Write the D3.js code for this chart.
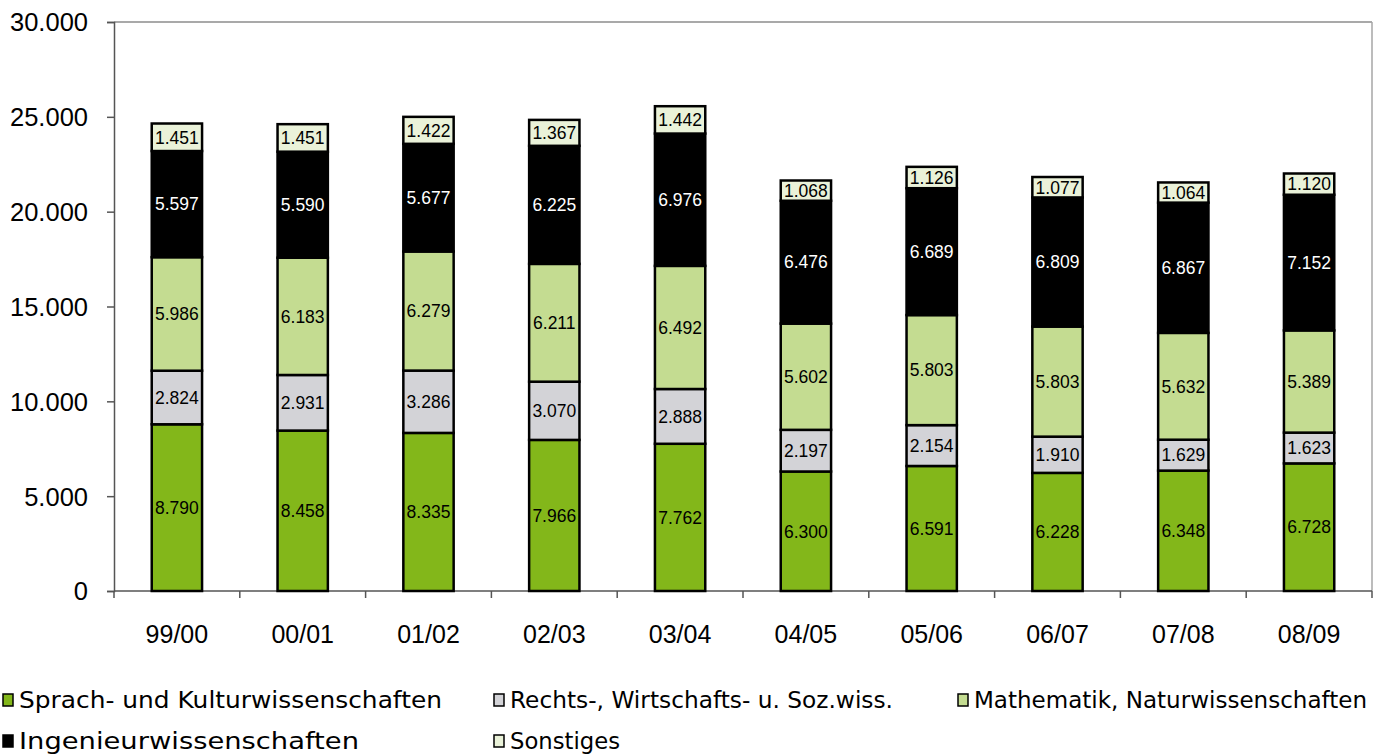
<!DOCTYPE html>
<html>
<head>
<meta charset="utf-8">
<script src="https://cdn.jsdelivr.net/npm/d3@7"></script>
<style>
  body { margin: 0; background: #fff; }
  svg { display: block; font-family: 'Liberation Sans', Arial, sans-serif; }
</style>
</head>
<body>
<div id="chart"></div>
<script>
// semesters on the x axis
var years = ['99/00', '00/01', '01/02', '02/03', '03/04', '04/05', '05/06', '06/07', '07/08', '08/09']

// series, bottom to top
var seriesNames = ['Sprach- und Kulturwissenschaften', 'Rechts-, Wirtschafts- u. Soz.wiss.', 'Mathematik, Naturwissenschaften', 'Ingenieurwissenschaften', 'Sonstiges']
var sprach     = [8790, 8458, 8335, 7966, 7762, 6300, 6591, 6228, 6348, 6728]
var rechts     = [2824, 2931, 3286, 3070, 2888, 2197, 2154, 1910, 1629, 1623]
var mathe      = [5986, 6183, 6279, 6211, 6492, 5602, 5803, 5803, 5632, 5389]
var ingenieur  = [5597, 5590, 5677, 6225, 6976, 6476, 6689, 6809, 6867, 7152]
var sonstiges  = [1451, 1451, 1422, 1367, 1442, 1068, 1126, 1077, 1064, 1120]

var yTicks = [0, 5000, 10000, 15000, 20000, 25000, 30000]

var colors     = ['#83b71a', '#d3d3d7', '#c4dc91', '#000000', '#eaf2d9']
var textColors = ['#000', '#000', '#000', '#fff', '#000']

var W = 1387, H = 756
var margin = {top: 22, right: 15, bottom: 165, left: 114}
var width  = W - margin.left - margin.right
var height = H - margin.top - margin.bottom

var svg = d3.select('#chart').append('svg').attr('width', W).attr('height', H)
var g = svg.append('g').attr('transform', 'translate(' + margin.left + ',' + margin.top + ')')

var table = years.map(function(y, i) {
  return {year: y, s0: sprach[i], s1: rechts[i], s2: mathe[i], s3: ingenieur[i], s4: sonstiges[i]}
})
var keys = ['s0', 's1', 's2', 's3', 's4']
var stacked = d3.stack().keys(keys)(table)

var x = d3.scaleBand().domain(years).range([0, width]).paddingInner(0.6).paddingOuter(0.3)
var xb = d3.scaleBand().domain(years).range([0, width])
var y = d3.scaleLinear().domain([0, 30000]).range([height, 0])

var fmt = function(v) { return d3.format(',')(v).replace(/,/g, '.') }

// frame top and right
g.append('line').attr('x1', 0).attr('x2', width).attr('y1', 0).attr('y2', 0).attr('stroke', '#8c8c8c').attr('stroke-width', 1.5)
g.append('line').attr('x1', width).attr('x2', width).attr('y1', 0).attr('y2', height).attr('stroke', '#a6a6a6').attr('stroke-width', 1.5)

// y axis
var yAxis = g.append('g').call(d3.axisLeft(y).tickValues(yTicks).tickSize(7).tickFormat(fmt))
yAxis.select('.domain').attr('stroke', '#555').attr('stroke-width', 1.5)
yAxis.selectAll('.tick line').attr('stroke', '#555').attr('stroke-width', 1.5)
yAxis.selectAll('.tick text').attr('font-size', 25.5).attr('fill', '#000').attr('x', -26).attr('dy', '0.35em')
  .style('font-family', 'Liberation Sans, Arial, sans-serif')

// x axis: ticks at band boundaries
var xAxisG = g.append('g').attr('transform', 'translate(0,' + height + ')')
xAxisG.append('line').attr('x1', 0).attr('x2', width).attr('stroke', '#555').attr('stroke-width', 1.5)
var bounds = years.map(function(d) { return xb(d) }).concat([width])
xAxisG.selectAll('.xt').data(bounds).join('line').attr('class', 'xt')
  .attr('x1', function(d) { return d }).attr('x2', function(d) { return d })
  .attr('y1', 0).attr('y2', 7).attr('stroke', '#555').attr('stroke-width', 1.5)
xAxisG.selectAll('.xl').data(years).join('text').attr('class', 'xl')
  .attr('x', function(d) { return xb(d) + xb.bandwidth() / 2 }).attr('y', 52)
  .attr('text-anchor', 'middle').attr('font-size', 25).text(function(d) { return d })

// bars
var layers = g.selectAll('.layer').data(stacked).join('g').attr('class', 'layer')
layers.selectAll('rect').data(function(d) { return d }).join('rect')
  .attr('x', function(d) { return x(d.data.year) })
  .attr('y', function(d) { return y(d[1]) })
  .attr('width', x.bandwidth())
  .attr('height', function(d) { return y(d[0]) - y(d[1]) })
  .attr('fill', function(d, i, n) { return colors[keys.indexOf(d3.select(n[i].parentNode).datum().key)] })
  .attr('stroke', '#000').attr('stroke-width', 2.5)

// value labels
stacked.forEach(function(layer, li) {
  g.selectAll('.lbl' + li).data(layer).join('text').attr('class', 'lbl' + li)
    .attr('x', function(d) { return x(d.data.year) + x.bandwidth() / 2 })
    .attr('y', function(d) { return (y(d[0]) + y(d[1])) / 2 })
    .attr('dy', '0.36em').attr('text-anchor', 'middle').attr('font-size', 17.5)
    .attr('fill', textColors[li])
    .text(function(d) { return fmt(d[1] - d[0]) })
})

// legend
var legendPos = [[3, 700], [494, 700], [958, 700], [3, 741], [494, 741]]
var legendLen = [423, 383, 393, 340, 110]
var legend = svg.selectAll('.leg').data(seriesNames).join('g').attr('class', 'leg')
  .attr('transform', function(d, i) { return 'translate(' + legendPos[i][0] + ',' + legendPos[i][1] + ')' })
legend.append('rect').attr('x', 0).attr('y', -6).attr('width', 10).attr('height', 12)
  .attr('fill', function(d, i) { return colors[i] }).attr('stroke', '#000').attr('stroke-width', 1.5)
legend.append('text').attr('x', 16).attr('y', 0).attr('dy', '0.36em').attr('font-size', 22.5)
  .style('font-family', 'DejaVu Sans, Liberation Sans, sans-serif')
  .attr('textLength', function(d, i) { return legendLen[i] }).attr('lengthAdjust', 'spacingAndGlyphs')
  .text(function(d) { return d })
</script>
</body>
</html>
